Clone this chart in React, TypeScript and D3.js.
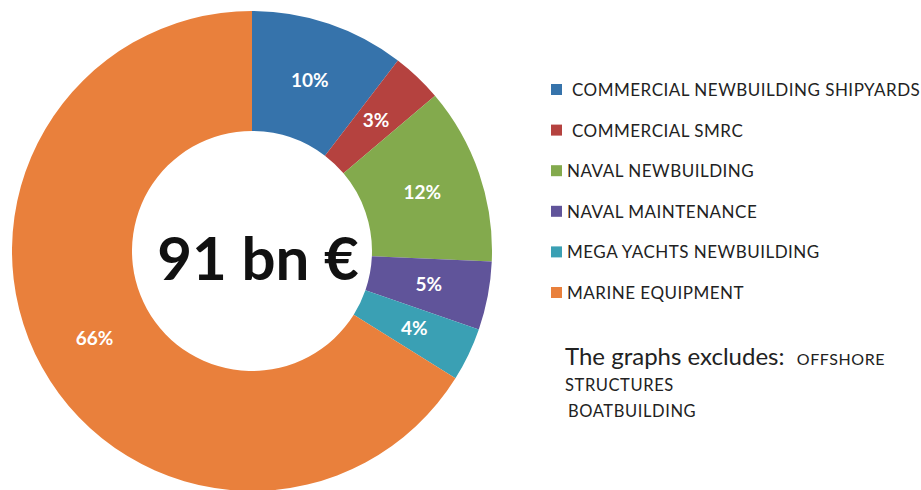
import * as d3 from 'd3';
import React from 'react';

// sector shares of the 91 bn € total (percent)
const categories = [
  'COMMERCIAL NEWBUILDING SHIPYARDS',
  'COMMERCIAL SMRC',
  'NAVAL NEWBUILDING',
  'NAVAL MAINTENANCE',
  'MEGA YACHTS NEWBUILDING',
  'MARINE EQUIPMENT',
];
const shares = [10.4, 3.4, 11.9, 4.6, 3.6, 66.1];
const colors = ['#3673ab', '#b5423f', '#83aa4d', '#60549a', '#3aa0b4', '#e9803c'];
const legendIndent = [true, true, false, false, false, false];

const W = 921;
const H = 490;
const cx = 252;
const cy = 251;
const outerR = 240;
const innerR = 120;
const font = 'Lato, "Open Sans", sans-serif';

export default function App() {
  const pie = d3.pie<number>().sort(null).value((d) => d);
  const arcs = pie(shares);
  const arc = d3.arc<d3.PieArcDatum<number>>().innerRadius(innerR).outerRadius(outerR);
  const fmt = d3.format('.0f');

  const legendY = d3.scalePoint<number>().domain(d3.range(categories.length)).range([90, 293]);

  return (
    <svg width={W} height={H} style={{position: 'absolute', left: 0, top: 0, background: '#fff'}}>
      <g transform={`translate(${cx},${cy})`}>
        {arcs.map((a, i) => (
          <path key={i} d={arc(a) || ''} fill={colors[i]} />
        ))}
        {arcs.map((a, i) => {
          const [x, y] = arc.centroid(a);
          return (
            <text key={'l' + i} x={x} y={y} dy="0.35em" textAnchor="middle" fill="#fff"
              fontFamily={font} fontWeight="bold" fontSize={19}>
              {fmt(a.data) + '%'}
            </text>
          );
        })}
        <text x={6} y={29} textAnchor="middle" fontFamily={font} fontWeight="bold" fontSize={60} fill="#111">
          91 bn €
        </text>
      </g>
      <g fontFamily={font} fill="#222">
        {categories.map((c, i) => {
          const y = legendY(i) as number;
          return (
            <g key={c}>
              <rect x={551} y={y - 6} width={11} height={11} fill={colors[i]} />
              <text x={legendIndent[i] ? 572 : 567} y={y} dy="0.35em" fontSize={17} letterSpacing={0.5}>{c}</text>
            </g>
          );
        })}
        <text x={565} y={365} fontSize={24}>
          The graphs excludes:{'\u00a0\u00a0'}<tspan fontSize={16} letterSpacing={0.6}>OFFSHORE</tspan>
        </text>
        <text x={565} y={391} fontSize={16.5} letterSpacing={0.6}>STRUCTURES</text>
        <text x={568} y={417} fontSize={16.5} letterSpacing={0.6}>BOATBUILDING</text>
      </g>
    </svg>
  );
}
